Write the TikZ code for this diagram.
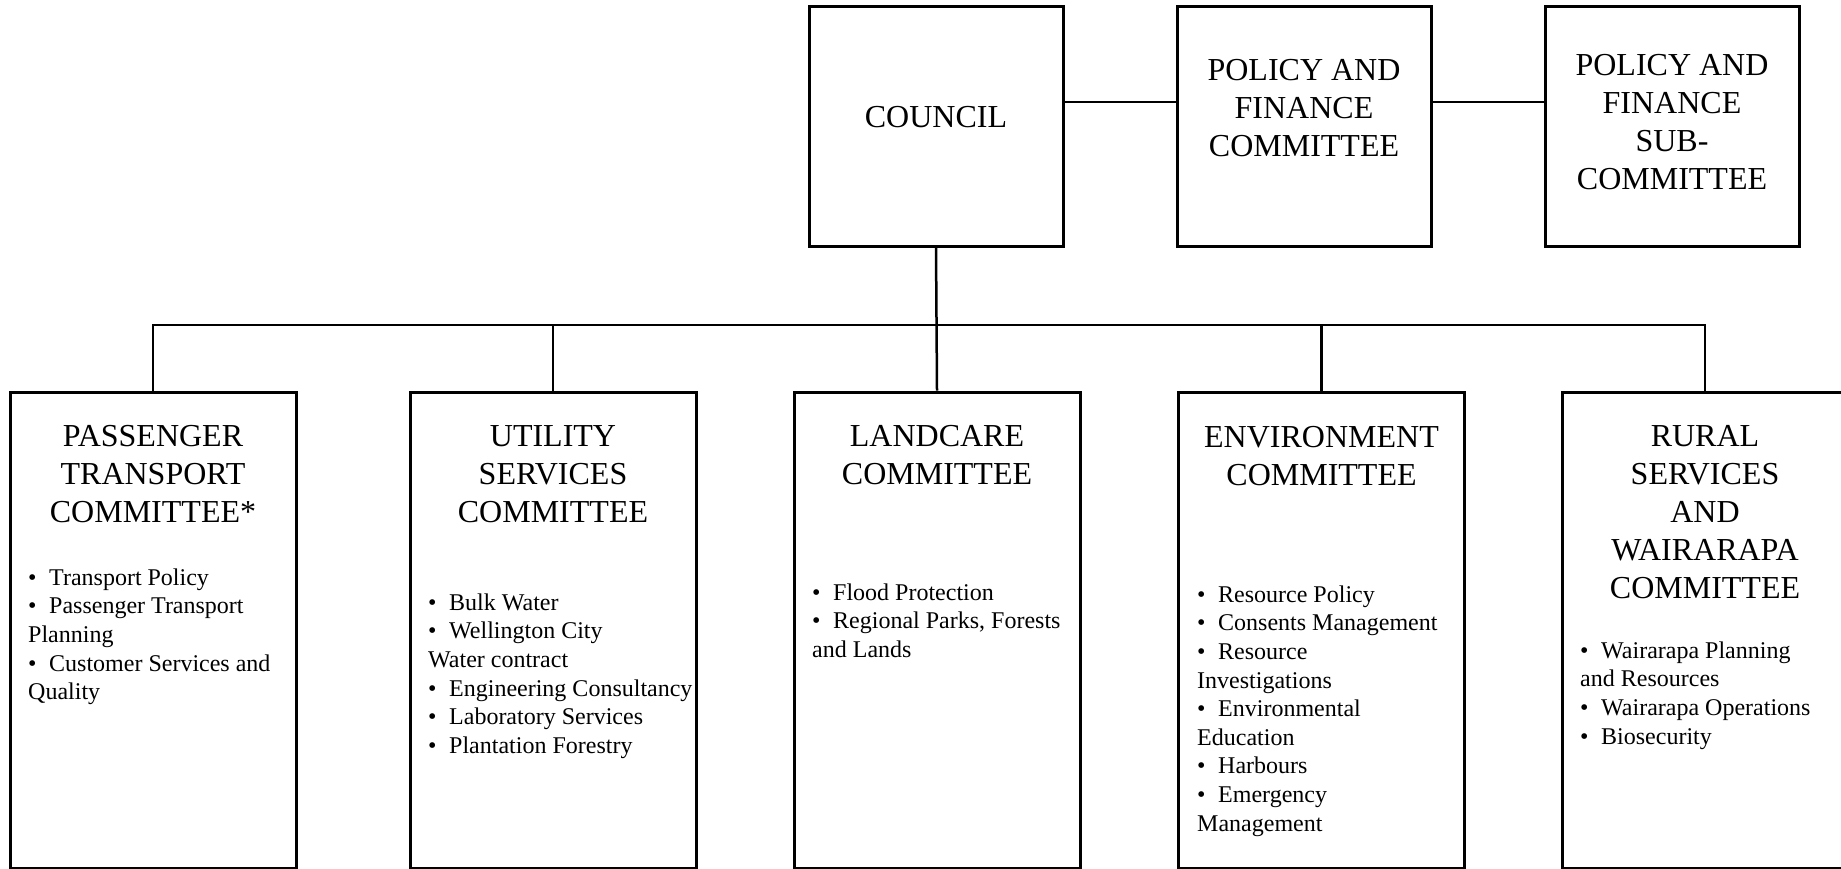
\documentclass[tikz,border=0pt]{standalone}
\usepackage{fontspec}
\setmainfont{Liberation Serif}
\usepackage{tikz}
\usetikzlibrary{calc}

\newcommand{\itembul}{\makebox[21pt][l]{\textbullet}}

\begin{document}
\begin{tikzpicture}[x=1pt,y=-1pt,
    topbox/.style={draw,line width=3pt,minimum width=254pt,minimum height=240pt,inner sep=0pt},
    combox/.style={draw,line width=3pt,minimum width=286pt,minimum height=476.5pt,inner sep=0pt},
    title/.style={anchor=north,align=center,inner sep=0pt,font=\fontsize{32}{38}\selectfont},
    duties/.style={anchor=north west,align=left,inner sep=0pt,font=\fontsize{24}{28.6}\selectfont},
    link/.style={line width=2.5pt}]
    \useasboundingbox (0,0) rectangle (1841,868);

    % council and the policy and finance boxes
    \node[topbox] (council) at (936,126) {};
    \node[topbox] (pfc) at (1304,126) {};
    \node[topbox] (pfsub) at (1672,126) {};
    \node[title] (councilt) at (936,99) {\rule{0pt}{28pt}COUNCIL};
    \node[title] (pfct) at (1304,52) {\rule{0pt}{28pt}POLICY AND\\FINANCE\\COMMITTEE};
    \node[title] (pfsubt) at (1672,47) {\rule{0pt}{28pt}POLICY AND\\FINANCE\\SUB-\\COMMITTEE};

    % standing committees
    \node[combox] (passenger) at (153,630.25) {};
    \node[combox] (utility) at (553,630.25) {};
    \node[combox] (landcare) at (937,630.25) {};
    \node[combox] (environment) at (1321.5,630.25) {};
    \node[combox] (rural) at (1705,630.25) {};

    \node[title] (passengert) at (153,418) {\rule{0pt}{28pt}PASSENGER\\TRANSPORT\\COMMITTEE*};
    \node[title] (utilityt) at (553,418) {\rule{0pt}{28pt}UTILITY\\SERVICES\\COMMITTEE};
    \node[title] (landcaret) at (937,418) {\rule{0pt}{28pt}LANDCARE\\COMMITTEE};
    \node[title] (environmentt) at (1321.5,419) {\rule{0pt}{28pt}ENVIRONMENT\\COMMITTEE};
    \node[title] (ruralt) at (1705,418) {\rule{0pt}{28pt}RURAL\\SERVICES\\AND\\WAIRARAPA\\COMMITTEE};

    \node[duties] (passengerd) at (28,565) {\rule{0pt}{20pt}\itembul Transport Policy\\
        \itembul Passenger Transport\\Planning\\
        \itembul Customer Services and\\Quality};
    \node[duties] (utilityd) at (428,590) {\rule{0pt}{20pt}\itembul Bulk Water\\
        \itembul Wellington City\\Water contract\\
        \itembul Engineering Consultancy\\
        \itembul Laboratory Services\\
        \itembul Plantation Forestry};
    \node[duties] (landcared) at (812,580) {\rule{0pt}{20pt}\itembul Flood Protection\\
        \itembul Regional Parks, Forests\\and Lands};
    \node[duties] (environmentd) at (1197,582) {\rule{0pt}{20pt}\itembul Resource Policy\\
        \itembul Consents Management\\
        \itembul Resource\\Investigations\\
        \itembul Environmental\\Education\\
        \itembul Harbours\\
        \itembul Emergency\\Management};
    \node[duties] (rurald) at (1580,638) {\rule{0pt}{20pt}\itembul Wairarapa Planning\\and Resources\\
        \itembul Wairarapa Operations\\
        \itembul Biosecurity};

    % connectors
    \coordinate (tie) at (0,102);
    \coordinate (bus) at (0,325);
    \draw[link] (council.east |- tie) -- (pfc.west |- tie);
    \draw[link] (pfc.east |- tie) -- (pfsub.west |- tie);
    \draw[link] (council.south) -- (landcare.north);
    \draw[link] (passenger.north) -- (passenger.north |- bus) -- (rural.north |- bus) -- (rural.north);
    \foreach \c in {utility,environment}
        \draw[link] (\c.north) -- (\c.north |- bus);
\end{tikzpicture}
\end{document}
